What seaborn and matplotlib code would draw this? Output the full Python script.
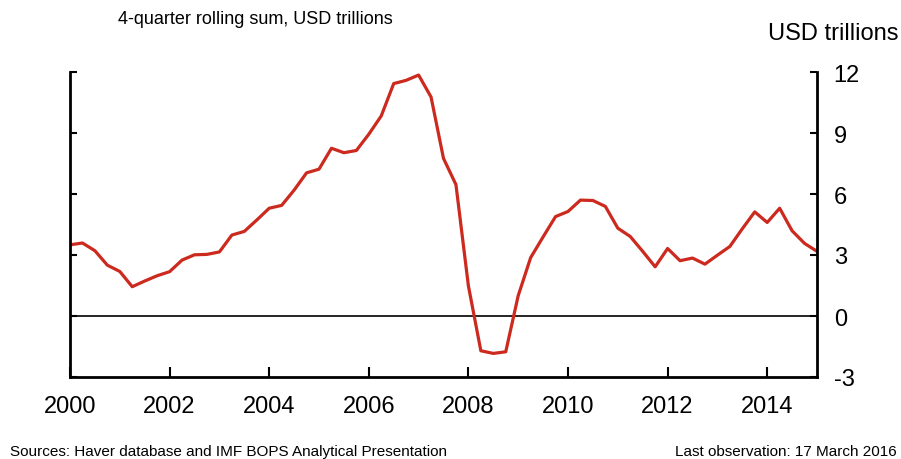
import pandas as pd
import seaborn as sns
import matplotlib.pyplot as plt

# 4-quarter rolling sum, USD trillions, quarterly 2000Q1 - 2015Q1
quarters = pd.period_range('2000Q1', '2015Q1', freq='Q')
inflows = [3.50, 3.59, 3.21, 2.50, 2.19, 1.44, 1.72, 1.98, 2.18, 2.75, 3.01, 3.03, 3.15,
           3.98, 4.16, 4.72, 5.30, 5.44, 6.19, 7.04, 7.22, 8.25, 8.03, 8.14,
           8.94, 9.84, 11.43, 11.59, 11.85, 10.77, 7.75, 6.46,
           1.48, -1.71, -1.84, -1.76, 1.00, 2.87, 3.89, 4.89, 5.14, 5.70,
           5.68, 5.39, 4.32, 3.91, 3.18, 2.42, 3.32, 2.72, 2.85, 2.55,
           2.99, 3.42, 4.29, 5.12, 4.60, 5.30, 4.19, 3.57, 3.18]

year_ticks = [2000, 2002, 2004, 2006, 2008, 2010, 2012, 2014]
value_ticks = [-3, 0, 3, 6, 9, 12]

df = pd.DataFrame({'date': quarters.year + (quarters.quarter - 1) / 4,
                   'value': inflows})

sns.set_style('ticks')
plt.rcParams['font.family'] = ['Liberation Sans', 'DejaVu Sans']
plt.rcParams['axes.unicode_minus'] = False
plt.rcParams['text.color'] = 'black'
plt.rcParams['xtick.color'] = 'black'
plt.rcParams['ytick.color'] = 'black'

fig = plt.figure(figsize=(9.01, 4.6), dpi=100)
ax = fig.add_axes([70 / 901, 1 - 378 / 460, 747 / 901, 305 / 460])

sns.lineplot(data=df, x='date', y='value', color='#CC2A1F', linewidth=2.3, ax=ax)
ax.axhline(0, color='black', linewidth=1.2, zorder=1)

ax.set_xlim(2000, 2015)
ax.set_ylim(-3, 12)
ax.set_xticks(year_ticks)
ax.set_yticks(value_ticks)
ax.set_xlabel('')
ax.set_ylabel('')

ax.tick_params(axis='y', left=True, right=True, labelleft=False, labelright=True,
               direction='in', length=5, width=1.5, labelsize=17, pad=12)
ax.tick_params(axis='x', direction='in', length=7, width=1.5, labelsize=17, pad=13)
ax.spines['top'].set_visible(False)
for side in ['left', 'right', 'bottom']:
    ax.spines[side].set_visible(True)
    ax.spines[side].set_linewidth(2)
    ax.spines[side].set_color('black')

fig.text(118 / 901, 1 - 20 / 460, '4-quarter rolling sum, USD trillions',
         fontsize=13, va='center', ha='left')
fig.text(899 / 901, 1 - 34 / 460, 'USD trillions', fontsize=17, va='center', ha='right')
fig.text(10 / 901, 1 - 452 / 460,
         'Sources: Haver database and IMF BOPS Analytical Presentation',
         fontsize=11, va='center', ha='left')
fig.text(897 / 901, 1 - 452 / 460, 'Last observation: 17 March 2016',
         fontsize=11, va='center', ha='right')

fig.savefig('out.png', dpi=100)
